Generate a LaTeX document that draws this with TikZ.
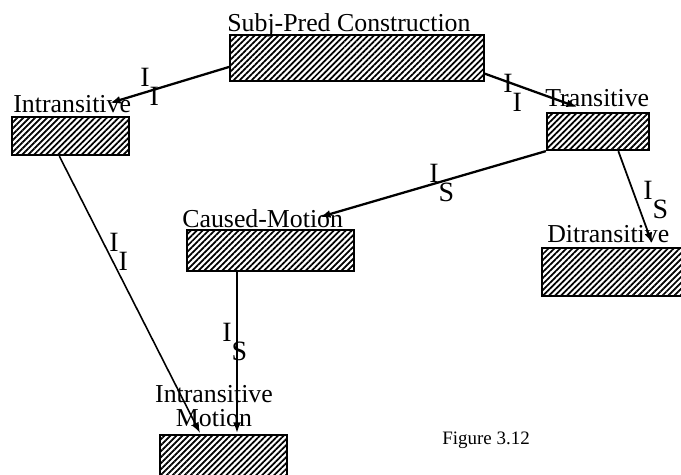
\documentclass[tikz,border=0pt]{standalone}
\usepackage{fontspec}
\setmainfont{Liberation Serif}
\usetikzlibrary{arrows.meta,patterns.meta,calc}

\tikzset{
  hbox/.style={draw, line width=1.3pt, inner sep=0pt,
    pattern={Lines[angle=45,distance=2.4pt,line width=1pt]}},
  cname/.style={anchor=base west, inner sep=0pt, font=\fontsize{14.7}{16}\selectfont},
  ilabel/.style={anchor=base west, inner sep=0pt, font=\fontsize{15.9}{17}\selectfont},
  link/.style={line width=1.3pt, -{Latex[length=6pt,width=4.5pt]}},
}
\newcommand{\ilink}[1]{I\raisebox{-0.68em}{#1}}

\begin{document}
\begin{tikzpicture}[x=0.02cm,y=-0.02cm]
\useasboundingbox (0,0) rectangle (681,475);

% hatched boxes
\node[hbox, minimum width=5.08cm, minimum height=0.92cm] (subjpred) at (357,58) {};
\node[hbox, minimum width=2.34cm, minimum height=0.76cm] (intrans) at (70.5,136) {};
\node[hbox, minimum width=2.04cm, minimum height=0.74cm] (trans) at (598,131.5) {};
\node[hbox, minimum width=3.34cm, minimum height=0.82cm] (caused) at (270.5,250.5) {};
\node[hbox, minimum width=3.16cm, minimum height=0.96cm] (ditrans) at (621,272) {};
\node[hbox, minimum width=2.54cm, minimum height=1.0cm] (intmotion) at (223.5,460) {};

% construction names
\node[cname] (subjpred-l) at (227,32) {Subj-Pred Construction};
\node[cname] (intrans-l) at (13,113) {Intransitive};
\node[cname] (trans-l) at (545,107) {Transitive};
\node[cname] (caused-l) at (182,228) {Caused-Motion};
\node[cname] (ditrans-l) at (547,243) {Ditransitive};
% base of a two-line node is its last line
\node[cname, anchor=base, align=center] (intmotion-l) at (214,427) {Intransitive\\[-1.8pt]Motion};

% arrow ends
\coordinate (intrans-tip) at (110,103);
\coordinate (trans-tip) at (577,107);
\coordinate (caused-tip) at (320,217);
\coordinate (ditrans-tip) at (652,243);
\coordinate (intmotion-tip1) at (200,433);
\coordinate (intmotion-tip2) at (237,433);

% inheritance links
\draw[link] (subjpred.184) -- (intrans-tip);
\draw[link] (subjpred.-7) -- (trans-tip);
\draw[link] (trans.south west) -- (caused-tip);
\draw[link, line width=1pt] (trans.-44) -- (ditrans-tip);
\draw[link, line width=0.9pt] (intrans.-119) -- (intmotion-tip1);
\draw[link, line width=1.1pt] (caused.south -| intmotion-tip2) -- (intmotion-tip2);

% link labels
\node[ilabel] (lab1) at (140,87) {\ilink{I}};
\node[ilabel] (lab2) at (503,93) {\ilink{I}};
\node[ilabel] (lab3) at (429,183) {\ilink{S}};
\node[ilabel] (lab4) at (643,200) {\ilink{S}};
\node[ilabel] (lab5) at (109,252) {\ilink{I}};
\node[ilabel] (lab6) at (222,342) {\ilink{S}};

% caption
\node[anchor=base west, inner sep=0pt, font=\fontsize{10.8}{12}\selectfont] (caption) at (442,445) {Figure 3.12};

\end{tikzpicture}
\end{document}
